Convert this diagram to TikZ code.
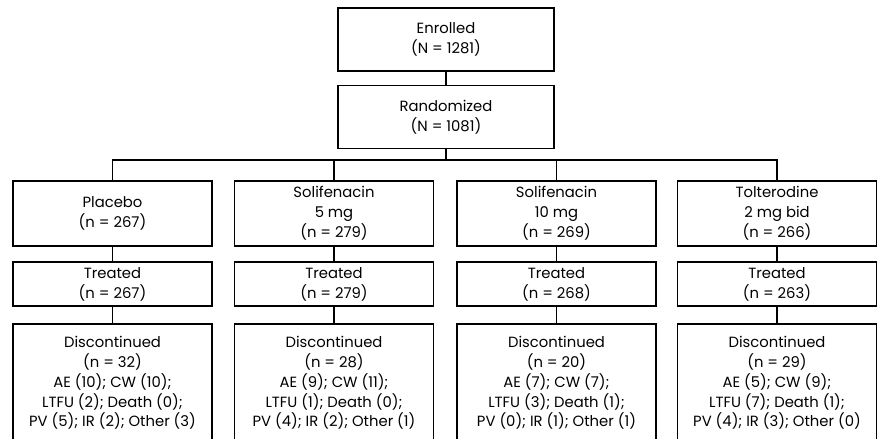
\documentclass[tikz,border=0pt]{standalone}
\usepackage{fontspec}
\setmainfont{Poppins}
\begin{document}
\begin{tikzpicture}[x=1pt,y=1pt,line width=1.6pt,
  box/.style={draw,rectangle,align=center,inner sep=0pt,minimum width=199pt,
    font=\fontsize{14.8}{19.8}\selectfont},
  topbox/.style={box,minimum width=216pt,minimum height=63pt},
  armbox/.style={box,minimum height=65pt},
  trtbox/.style={box,minimum height=44pt},
  disbox/.style={box,minimum height=118pt}]
\path[use as bounding box,clip] (0,0) rectangle (879,-439);
%
\node[topbox] (enr) at (446,-39.5) {Enrolled\\(N = 1281)};
\node[topbox] (rnd) at (446,-117) {Randomized\\(N = 1081)};
\draw (enr) -- (rnd);
%
\node[armbox] (plc) at (112.5,-213.5) {Placebo\\(n = 267)};
\node[armbox] (sol5) at (334,-213.5) {Solifenacin\\5 mg\\(n = 279)};
\node[armbox] (sol10) at (556.5,-213.5) {Solifenacin\\10 mg\\(n = 269)};
\node[armbox] (tol) at (777,-213.5) {Tolterodine\\2 mg bid\\(n = 266)};
%
\coordinate (bus) at (446,-160);
\draw (rnd) -- (bus);
\foreach \g in {plc,sol5,sol10,tol}
  \draw (bus) -| (\g);
%
\node[trtbox] (plct) at (112.5,-284) {Treated\\(n = 267)};
\node[trtbox] (sol5t) at (334,-284) {Treated\\(n = 279)};
\node[trtbox] (sol10t) at (556.5,-284) {Treated\\(n = 268)};
\node[trtbox] (tolt) at (777,-284) {Treated\\(n = 263)};
%
\node[disbox] (plcd) at (112.5,-383) {Discontinued\\(n = 32)\\AE (10); CW (10);\\LTFU (2); Death (0);\\PV (5); IR (2); Other (3)};
\node[disbox] (sol5d) at (334,-383) {Discontinued\\(n = 28)\\AE (9); CW (11);\\LTFU (1); Death (0);\\PV (4); IR (2); Other (1)};
\node[disbox] (sol10d) at (556.5,-383) {Discontinued\\(n = 20)\\AE (7); CW (7);\\LTFU (3); Death (1);\\PV (0); IR (1); Other (1)};
\node[disbox] (told) at (777,-383) {Discontinued\\(n = 29)\\AE (5); CW (9);\\LTFU (7); Death (1);\\PV (4); IR (3); Other (0)};
%
\foreach \g in {plc,sol5,sol10,tol}{
  \draw (\g) -- (\g t);
  \draw (\g t) -- (\g d);
}
\end{tikzpicture}
\end{document}
